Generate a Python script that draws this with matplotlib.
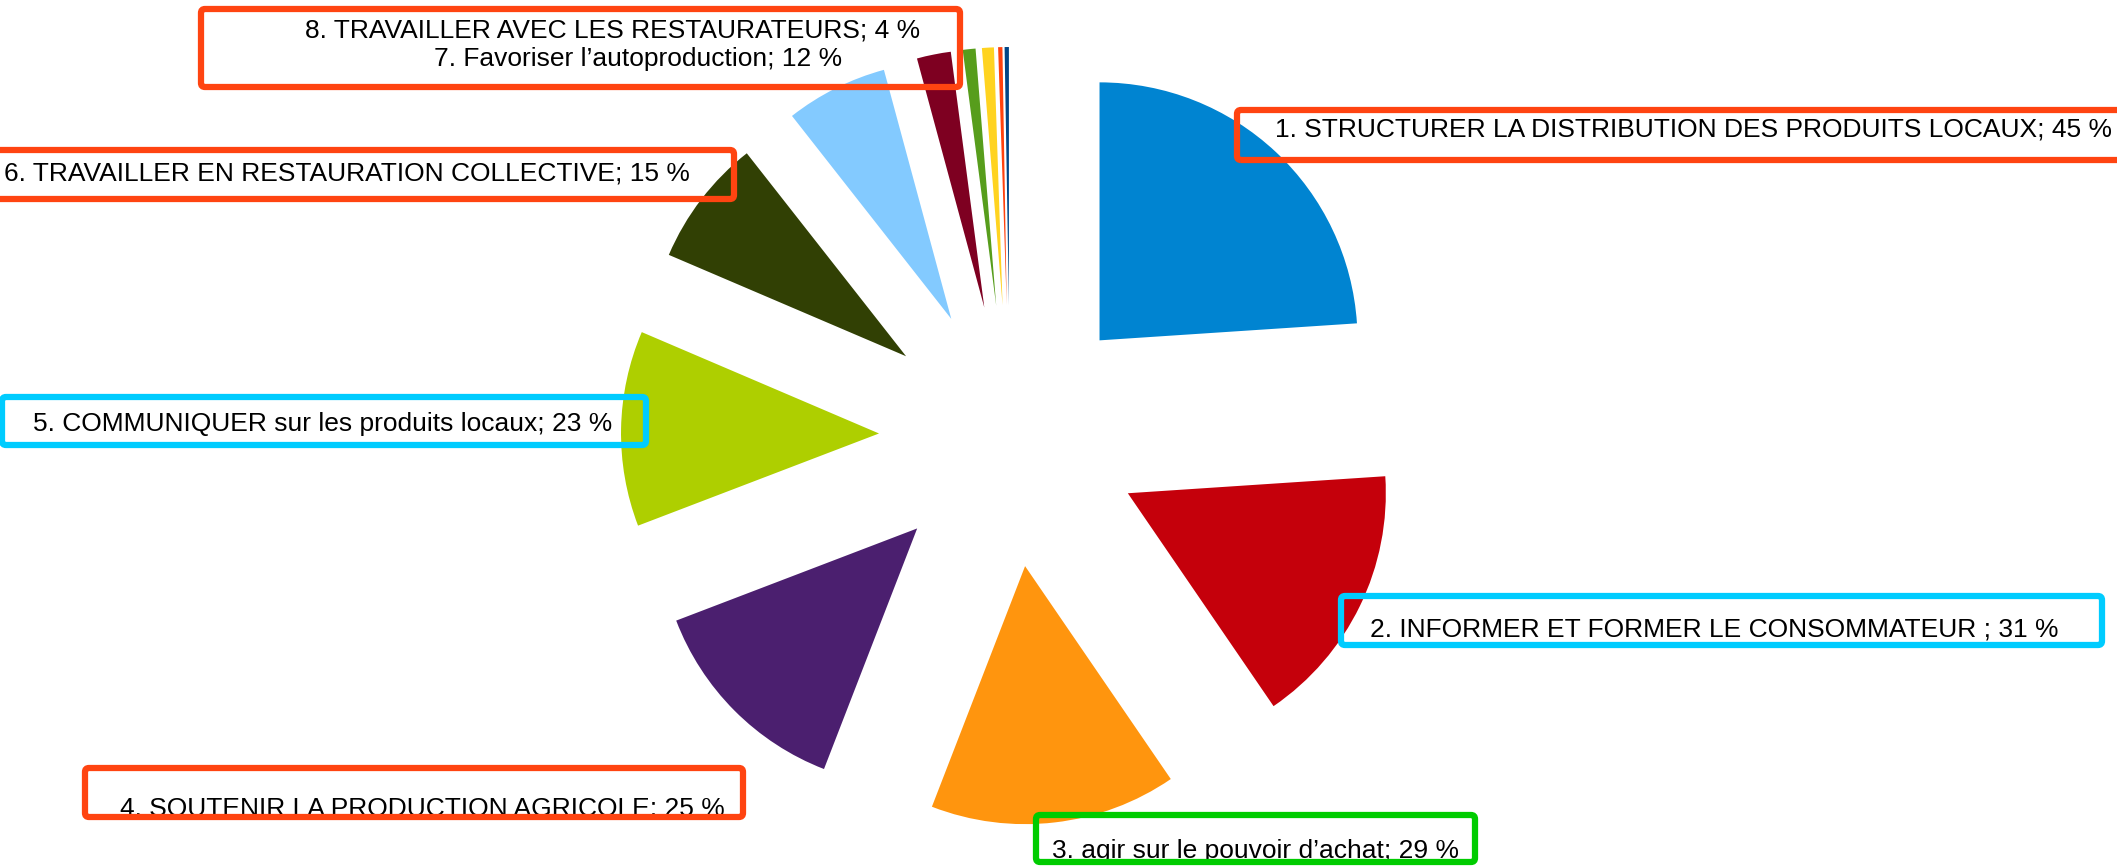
import matplotlib
matplotlib.use("Agg")
import matplotlib.pyplot as plt
from matplotlib.patches import FancyBboxPatch

W, H = 2117, 867

# Data (ascending order, drawn counter-clockwise from the top)
values = [0.5, 0.5, 1.4, 1.5, 4, 12, 15, 23, 25, 29, 31, 45]
colors = ["#004586", "#ff420e", "#ffd320", "#579d1c", "#7e0021", "#83caff",
          "#314004", "#aecf00", "#4b1f6f", "#ff950e", "#c5000b", "#0084d1"]

labels = [
    "1. STRUCTURER LA DISTRIBUTION DES PRODUITS LOCAUX; 45 %",
    "2. INFORMER ET FORMER LE CONSOMMATEUR ; 31 %",
    "3. agir sur le pouvoir d\u2019achat; 29 %",
    "4. SOUTENIR LA PRODUCTION AGRICOLE; 25 %",
    "5. COMMUNIQUER sur les produits locaux; 23 %",
    "6. TRAVAILLER EN RESTAURATION COLLECTIVE; 15 %",
    "7. Favoriser l\u2019autoproduction; 12 %",
    "8. TRAVAILLER AVEC LES RESTAURATEURS; 4 %",
]

fig = plt.figure(figsize=(W / 100, H / 100), dpi=100)
ax = fig.add_axes([0, 0, 1, 1])

cx, cy = 1010, H - 436
R = 258
EXP = 131
ax.pie(values, colors=colors, startangle=90, counterclock=True,
       center=(cx, cy), radius=R, explode=[EXP] * len(values),
       wedgeprops=dict(linewidth=0))

ax.set_xlim(0, W)
ax.set_ylim(0, H)
ax.set_aspect("auto")
ax.axis("off")

FS = 19
font = "Liberation Sans"
capc = 0.716 * FS * 100 / 72 / 2  # half cap height in px

# text placements: (label index, x, caps-centre y from top, ha)
text_pos = [
    (0, 2112, 127.5, "right"),
    (1, 1370, 627, "left"),
    (2, 1052, 849, "left"),
    (3, 120, 806, "left"),
    (4, 33, 422, "left"),
    (5, 4, 171, "left"),
    (7, 305, 28, "left"),
    (6, 434, 57, "left"),
]
for i, x, yc, ha in text_pos:
    ax.text(x, H - (yc + capc), labels[i], fontsize=FS, family=font,
            ha=ha, va="baseline", color="black", zorder=5)

ORANGE = "#ff4411"
CYAN = "#00ccff"
GREEN = "#00cc00"
boxes = [
    (1237, 2135, 110, 160, ORANGE),
    (1341, 2102, 596, 645, CYAN),
    (1036, 1475, 815, 862, GREEN),
    (85, 743, 768, 817, ORANGE),
    (2, 646, 397, 445, CYAN),
    (-20, 734, 150, 199, ORANGE),
    (201, 960, 9, 87, ORANGE),
]
for x0, x1, y0, y1, c in boxes:
    p = FancyBboxPatch((x0, H - y1), x1 - x0, y1 - y0,
                       boxstyle="round,pad=0,rounding_size=4",
                       fill=False, edgecolor=c, linewidth=4.5, zorder=10,
                       clip_on=False)
    ax.add_patch(p)

fig.savefig("out.png", dpi=100, facecolor="white")
